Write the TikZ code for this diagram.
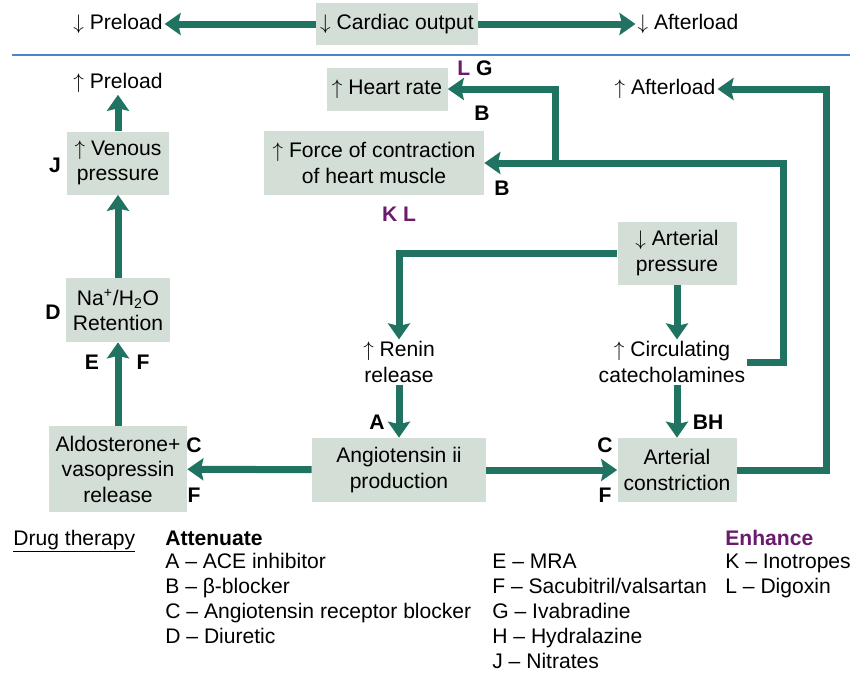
\documentclass[tikz,border=0pt]{standalone}
\usepackage{fontspec}
\setmainfont{Liberation Sans}
\usetikzlibrary{arrows.meta}
\definecolor{flow}{HTML}{1F7360}
\definecolor{boxfill}{HTML}{D3DED6}
\definecolor{enh}{HTML}{6B1A6E}
\definecolor{divline}{HTML}{4A86CF}
\newcommand{\figfont}{\fontsize{12}{14.5}\selectfont}
\newcommand{\upar}{$\uparrow$}
\newcommand{\dnar}{$\downarrow$}

\begin{document}
\begin{tikzpicture}[font=\figfont, >={Stealth[length=0.32cm, width=0.44cm, inset=0.05cm]},
   bx/.style={fill=boxfill, align=center, inner sep=2pt},
   lbl/.style={align=center, inner sep=1pt},
   flw/.style={->, draw=flow, line width=0.14cm},
   lt/.style={font=\figfont\bfseries, inner sep=0pt},
   leg/.style={anchor=base west, inner sep=0pt}]
  \useasboundingbox (0,0) rectangle (17.08,-13.5);
  % top row
  \node[bx, minimum width=3.24cm, minimum height=0.84cm] (co) at (7.94,-0.48) {\dnar\ Cardiac output};
  \node[lbl] (preD) at (2.36,-0.48) {\dnar\ Preload};
  \node[lbl] (aftD) at (13.76,-0.48) {\dnar\ Afterload};
  \draw[flw] (co) -- (preD);
  \draw[flw] (co) -- (aftD);
  \draw[divline, line width=0.045cm] (0.24,-1.1) -- (17.0,-1.1);
  % left column
  \node[lbl] (preU) at (2.36,-1.66) {\upar\ Preload};
  \node[bx, minimum width=2.04cm, minimum height=1.26cm] (ven) at (2.36,-3.26) {\upar\ Venous\\pressure};
  \node[bx, minimum width=2.08cm, minimum height=1.28cm] (na) at (2.36,-6.2) {Na\textsuperscript{+}/H\textsubscript{2}O\\Retention};
  \node[bx, minimum width=2.76cm, minimum height=1.72cm] (ald) at (2.36,-9.38) {Aldosterone+\\vasopressin\\release};
  % middle column
  \node[bx, minimum width=2.42cm, minimum height=0.86cm] (hr) at (7.74,-1.78) {\upar\ Heart rate};
  \node[bx, minimum width=4.4cm, minimum height=1.28cm] (frc) at (7.48,-3.26) {\upar\ Force of contraction\\of heart muscle};
  \node[lbl] (ren) at (7.98,-7.24) {\upar\ Renin\\release};
  \node[bx, minimum width=3.48cm, minimum height=1.28cm] (ang) at (7.98,-9.4) {Angiotensin ii\\production};
  % right column
  \node[lbl] (aftU) at (13.3,-1.78) {\upar\ Afterload};
  \node[bx, minimum width=2.38cm, minimum height=1.26cm] (apr) at (13.54,-5.06) {\dnar\ Arterial\\pressure};
  \node[lbl] (cat) at (13.44,-7.24) {\upar\ Circulating\\catecholamines};
  \node[bx, minimum width=2.38cm, minimum height=1.28cm] (art) at (13.54,-9.4) {Arterial\\constriction};
  \coordinate (ca) at (15.66,-3.26);
  \coordinate (hb) at (11.1,-3.26);
  \coordinate (ar) at (16.52,-1.78);
  % connectors
  \draw[flw] (ven) -- (preU);
  \draw[flw] (na) -- (ven);
  \draw[flw] (ald) -- (na);
  \draw[flw] (ang) -- (ald);
  \draw[flw] (ang) -- (art);
  \draw[flw] (ren) -- (ang);
  \draw[flw] (apr.west) -| (ren.north);
  \draw[flw] (apr.south) -- (apr.south |- cat.north);
  \draw[flw] (cat.south -| art) -- (art.north);
  \draw[flw] (cat.east) -| (ca) -- (frc.east);
  \draw[flw] (hb) |- (hr.east);
  \draw[flw] (art.east) -| (ar) -- (aftU.east);
  % drug letters
  \node[lt] (lg) at (9.5,-1.36) {\textcolor{enh}{L} G};
  \node[lt] (b1) at (9.64,-2.26) {B};
  \node[lt] (b2) at (10.04,-3.76) {B};
  \node[lt, text=enh] (kl) at (7.98,-4.28) {K L};
  \node[lt] (j) at (1.1,-3.3) {J};
  \node[lt] (d) at (1.06,-6.24) {D};
  \node[lt] (e) at (1.84,-7.24) {E};
  \node[lt] (f1) at (2.86,-7.24) {F};
  \node[lt] (c1) at (3.88,-8.9) {C};
  \node[lt] (f2) at (3.88,-9.9) {F};
  \node[lt] (a) at (7.54,-8.44) {A};
  \node[lt] (c2) at (12.1,-8.9) {C};
  \node[lt] (f3) at (12.1,-9.9) {F};
  \node[lt] (bh) at (14.16,-8.44) {BH};
  % legend
  \node[leg] (dt) at (0.26,-10.9) {\underline{Drug therapy}};
  \node[leg, font=\figfont\bfseries] (att) at (3.3,-10.9) {Attenuate};
  \node[leg] (ace) at (3.3,-11.37) {A – ACE inhibitor};
  \node[leg] (beta) at (3.3,-11.87) {B – β-blocker};
  \node[leg] (arb) at (3.3,-12.37) {C – Angiotensin receptor blocker};
  \node[leg] (diu) at (3.3,-12.87) {D – Diuretic};
  \node[leg] (mra) at (9.84,-11.37) {E – MRA};
  \node[leg] (sac) at (9.84,-11.87) {F – Sacubitril/valsartan};
  \node[leg] (iva) at (9.84,-12.37) {G – Ivabradine};
  \node[leg] (hyd) at (9.84,-12.87) {H – Hydralazine};
  \node[leg] (nit) at (9.84,-13.37) {J – Nitrates};
  \node[leg, font=\figfont\bfseries, text=enh] (enhc) at (14.5,-10.9) {Enhance};
  \node[leg] (ino) at (14.5,-11.37) {K – Inotropes};
  \node[leg] (dig) at (14.5,-11.87) {L – Digoxin};
\end{tikzpicture}
\end{document}
